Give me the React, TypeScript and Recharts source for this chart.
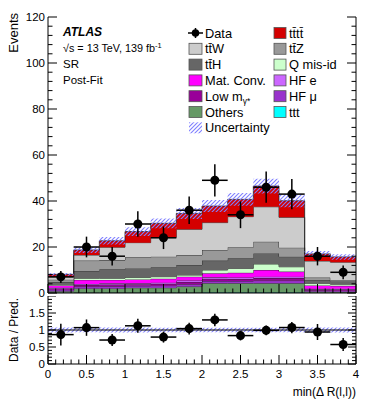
import { Area, ComposedChart, ErrorBar, ReferenceLine, Scatter, XAxis, YAxis } from 'recharts';

const FONT = '"Liberation Sans", Arial, Helvetica, sans-serif';

// binning of min(dR(l,l)): 12 bins of width 1/3
const BIN_EDGES = [0, 0.3333, 0.6667, 1, 1.3333, 1.6667, 2, 2.3333, 2.6667, 3, 3.3333, 3.6667, 4];
const BIN_CENTERS = [0.1667, 0.5, 0.8333, 1.1667, 1.5, 1.8333, 2.1667, 2.5, 2.8333, 3.1667, 3.5, 3.8333];
const BIN_HALF = 0.1667;

const DATA = [7, 20, 16, 30, 24, 36, 49, 34, 46, 43, 16, 9];
const DATA_ERR = [2.6, 4.5, 4.0, 5.5, 4.9, 6.0, 7.0, 5.8, 6.8, 6.6, 4.0, 3.0];

// post-fit predictions, bottom of stack first
const TTT = [0.1, 0.2, 0.2, 0.2, 0.2, 0.2, 0.3, 0.3, 0.3, 0.3, 0.1, 0.1];
const OTHERS = [0.7, 1.8, 1.8, 2.1, 2.1, 2.6, 3.9, 3.9, 3.9, 3.9, 0.5, 0.4];
const HF_MU = [0.6, 0.8, 0.9, 0.8, 0.9, 1.0, 1.0, 1.0, 1.2, 1.2, 0.5, 0.5];
const LOW_MGAMMA = [0.6, 0.7, 0.8, 0.7, 0.8, 1.0, 1.0, 0.9, 1.1, 1.1, 0.5, 0.5];
const HF_E = [0.3, 0.4, 0.5, 0.4, 0.5, 0.6, 0.6, 0.6, 0.6, 0.6, 0.3, 0.3];
const MAT_CONV = [1.0, 1.8, 1.5, 1.7, 1.7, 1.7, 1.8, 2.1, 2.9, 2.2, 1.4, 1.3];
const Q_MISID = [0.3, 0.7, 0.7, 0.9, 0.9, 0.7, 1.4, 1.9, 2.6, 2.1, 0.9, 0.7];
const TTH = [1.2, 3.2, 3.9, 3.9, 4.1, 4.4, 4.1, 4.4, 4.6, 4.4, 1.5, 1.2];
const TTZ = [1.0, 4.5, 4.0, 4.8, 4.6, 4.3, 4.6, 4.8, 5.1, 3.9, 1.0, 0.7];
const TTW = [1.3, 2.4, 5.6, 6.4, 8.4, 11.2, 11.9, 13.3, 15.2, 13.2, 7.2, 7.7];
const TTTT = [1.0, 2.2, 2.8, 4.8, 6.1, 6.9, 7.2, 7.5, 9.0, 7.2, 3.1, 2.3];

const UNCERTAINTY = [0.6, 1.3, 1.6, 1.9, 2.1, 2.4, 2.6, 2.8, 3.2, 2.8, 1.3, 1.2];

const SAMPLES = [
  { key: 'ttt', color: '#00ffff', values: TTT },
  { key: 'others', color: '#669966', values: OTHERS },
  { key: 'hfmu', color: '#9933cc', values: HF_MU },
  { key: 'lowm', color: '#990099', values: LOW_MGAMMA },
  { key: 'hfe', color: '#cc66ff', values: HF_E },
  { key: 'matconv', color: '#ff00ff', values: MAT_CONV },
  { key: 'qmisid', color: '#ccffcc', values: Q_MISID },
  { key: 'tth', color: '#666666', values: TTH },
  { key: 'ttz', color: '#999999', values: TTZ },
  { key: 'ttw', color: '#cccccc', values: TTW },
  { key: 'tttt', color: '#d40000', values: TTTT },
];

const TOTAL = BIN_CENTERS.map((_, b) => SAMPLES.reduce((s, p) => s + p.values[b], 0));

const histRows = BIN_EDGES.map((x, i) => {
  const b = Math.min(i, BIN_CENTERS.length - 1);
  const row: any = { x };
  SAMPLES.forEach((s) => (row[s.key] = s.values[b]));
  row.band = [TOTAL[b] - UNCERTAINTY[b], TOTAL[b] + UNCERTAINTY[b]];
  row.rband = [1 - UNCERTAINTY[b] / TOTAL[b], 1 + UNCERTAINTY[b] / TOTAL[b]];
  return row;
});

const dataPoints = BIN_CENTERS.map((x, b) => ({ x, y: DATA[b], ey: DATA_ERR[b], ex: BIN_HALF }));
const ratioPoints = BIN_CENTERS.map((x, b) => ({
  x,
  y: DATA[b] / TOTAL[b],
  ey: DATA_ERR[b] / TOTAL[b],
  ex: BIN_HALF,
}));

const X_TICKS = Array.from({ length: 41 }, (_, i) => i / 10);
const Y_TICKS = Array.from({ length: 31 }, (_, i) => i * 4);
const R_TICKS = Array.from({ length: 21 }, (_, i) => i / 10);

const HATCH = '#7f7fff';

const fmt = (v: number) => String(Number(v.toFixed(2)));
const onStep = (v: number, step: number) => Math.abs(v / step - Math.round(v / step)) < 1e-6;

const makeTick =
  (side: 'bottom' | 'top' | 'left' | 'right', major: number, long: number, label?: (v: number) => boolean) =>
  (props: any) => {
    const { x, y, payload } = props;
    const v = payload.value;
    const big = onStep(v, major);
    const len = big ? long : long / 2;
    let x2 = x;
    let y2 = y;
    if (side === 'bottom') y2 = y - len;
    if (side === 'top') y2 = y + len;
    if (side === 'left') x2 = x + len;
    if (side === 'right') x2 = x - len;
    const show = big && label && label(v);
    return (
      <g>
        <line x1={x} y1={y} x2={x2} y2={y2} stroke="#000" strokeWidth={1} />
        {show && side === 'bottom' && (
          <text x={x} y={y + 14} textAnchor="middle" fontSize={11.5} fontFamily={FONT} fill="#000">
            {fmt(v)}
          </text>
        )}
        {show && side === 'left' && (
          <text x={x - 3} y={y + 4} textAnchor="end" fontSize={11.5} fontFamily={FONT} fill="#000">
            {fmt(v)}
          </text>
        )}
      </g>
    );
  };

const axisCommon = { tickLine: false, tickSize: 0, tickMargin: 0, interval: 0 as const, axisLine: { stroke: '#000' } };

const LEGEND_LEFT = [
  { label: 'tt\u0304W', color: '#cccccc' },
  { label: 'tt\u0304H', color: '#666666' },
  { label: 'Mat. Conv.', color: '#ff00ff' },
  { label: 'LOWM', color: '#990099' },
  { label: 'Others', color: '#669966' },
];
const LEGEND_RIGHT = [
  { label: 'tt\u0304tt\u0304', color: '#d40000' },
  { label: 'tt\u0304Z', color: '#999999' },
  { label: 'Q mis-id', color: '#ccffcc' },
  { label: 'HF e', color: '#cc66ff' },
  { label: 'HF \u03bc', color: '#9933cc' },
  { label: 'ttt', color: '#00ffff' },
];

const ROW0 = 33;
const ROW_STEP = 15.8;
const LEG_FS = 12.8;

const Overlay = () => (
  <svg width={374} height={407} style={{ position: 'absolute', left: 0, top: 0, pointerEvents: 'none' }}>
    <g fontFamily={FONT} fill="#000">
      <text x={18} y={13} fontSize={13} textAnchor="end" transform="rotate(-90 18 13)">
        Events
      </text>
      <text x={18} y={330} fontSize={12} textAnchor="middle" transform="rotate(-90 18 330)">
        Data / Pred.
      </text>
      <text x={356} y={396} fontSize={12} textAnchor="end">
        min(Δ R(l,l))
      </text>
      <text x={63} y={36} fontSize={12} fontWeight="bold" fontStyle="italic">
        ATLAS
      </text>
      <text x={63} y={52} fontSize={10.8}>
        √s = 13 TeV, 139 fb<tspan dy={-4} fontSize={7.5}>-1</tspan>
      </text>
      <text x={63} y={68} fontSize={11.5}>
        SR
      </text>
      <text x={63} y={84} fontSize={11.5}>
        Post-Fit
      </text>

      {/* legend, left column */}
      <line x1={188} x2={203} y1={ROW0} y2={ROW0} stroke="#000" strokeWidth={1.5} />
      <line x1={195.5} x2={195.5} y1={ROW0 - 5} y2={ROW0 + 5} stroke="#000" strokeWidth={1.5} />
      <circle cx={195.5} cy={ROW0} r={3.8} fill="#000" />
      <text x={205} y={ROW0 + 4.5} fontSize={LEG_FS}>
        Data
      </text>
      {LEGEND_LEFT.map((e, i) => {
        const cy = ROW0 + ROW_STEP * (i + 1);
        return (
          <g key={e.label}>
            <rect x={189} y={cy - 5.5} width={13} height={11} fill={e.color} stroke="#555" strokeWidth={0.8} />
            <text x={205} y={cy + 4.5} fontSize={LEG_FS}>
              {e.label === 'LOWM' ? (
                <>
                  Low m<tspan dy={3} fontSize={8.5}>γ*</tspan>
                </>
              ) : (
                e.label
              )}
            </text>
          </g>
        );
      })}
      <rect x={189} y={ROW0 + ROW_STEP * 6 - 5.5} width={13} height={11} fill="url(#hatch)" />
      <text x={205} y={ROW0 + ROW_STEP * 6 + 4.5} fontSize={LEG_FS}>
        Uncertainty
      </text>
      {/* legend, right column */}
      {LEGEND_RIGHT.map((e, i) => {
        const cy = ROW0 + ROW_STEP * i;
        return (
          <g key={e.label}>
            <rect x={274} y={cy - 5.5} width={12} height={11} fill={e.color} stroke="#555" strokeWidth={0.8} />
            <text x={289} y={cy + 4.5} fontSize={LEG_FS}>
              {e.label}
            </text>
          </g>
        );
      })}
    </g>
  </svg>
);

export default function App() {
  return (
    <div style={{ position: 'absolute', left: 0, top: 0, width: 374, height: 407, background: '#fff' }}>
      <svg width={0} height={0} style={{ position: 'absolute' }}>
        <defs>
          <pattern id="hatch" patternUnits="userSpaceOnUse" width={4} height={4}>
            <line x1={0} y1={4} x2={4} y2={0} stroke={HATCH} strokeWidth={1.1} />
            <line x1={-1} y1={1} x2={1} y2={-1} stroke={HATCH} strokeWidth={1.1} />
            <line x1={3} y1={5} x2={5} y2={3} stroke={HATCH} strokeWidth={1.1} />
          </pattern>
        </defs>
      </svg>
      <div style={{ position: 'absolute', left: 0, top: 296 }}>
        <ComposedChart width={374} height={111} data={histRows} margin={{ top: 0, right: 0, bottom: 0, left: 0 }}>
          <XAxis dataKey="x" type="number" domain={[0, 4]} ticks={X_TICKS} height={43} tick={makeTick('bottom', 0.5, 9, () => true)} {...axisCommon} allowDataOverflow />
          <XAxis xAxisId="top" orientation="top" type="number" domain={[0, 4]} ticks={X_TICKS} height={0} tick={makeTick('top', 0.5, 9)} {...axisCommon} allowDataOverflow />
          <YAxis type="number" domain={[0, 2]} ticks={R_TICKS} width={48} tick={makeTick('left', 0.5, 8, (v) => v < 1.9)} {...axisCommon} allowDataOverflow />
          <YAxis yAxisId="right" orientation="right" type="number" domain={[0, 2]} ticks={R_TICKS} width={18} tick={makeTick('right', 0.5, 8)} {...axisCommon} allowDataOverflow />
          <Area dataKey="rband" type="stepAfter" fill="url(#hatch)" fillOpacity={1} stroke="none" dot={false} activeDot={false} isAnimationActive={false} />
          <ReferenceLine y={1} stroke="#000" strokeWidth={1} />
          <Scatter data={ratioPoints} dataKey="y" fill="#000" shape="circle" isAnimationActive={false}>
            <ErrorBar dataKey="ey" direction="y" width={0} stroke="#000" strokeWidth={1.5} isAnimationActive={false} />
            <ErrorBar dataKey="ex" direction="x" width={0} stroke="#000" strokeWidth={1.5} isAnimationActive={false} />
          </Scatter>
        </ComposedChart>
      </div>
      <div style={{ position: 'absolute', left: 0, top: 0 }}>
        <ComposedChart width={374} height={302} data={histRows} margin={{ top: 17, right: 0, bottom: 0, left: 0 }}>
          <XAxis dataKey="x" type="number" domain={[0, 4]} ticks={X_TICKS} height={9} tick={makeTick('bottom', 0.5, 9)} {...axisCommon} allowDataOverflow />
          <XAxis xAxisId="top" orientation="top" type="number" domain={[0, 4]} ticks={X_TICKS} height={0} tick={makeTick('top', 0.5, 9)} {...axisCommon} allowDataOverflow />
          <YAxis type="number" domain={[0, 120]} ticks={Y_TICKS} width={48} tick={makeTick('left', 20, 9, () => true)} {...axisCommon} allowDataOverflow />
          <YAxis yAxisId="right" orientation="right" type="number" domain={[0, 120]} ticks={Y_TICKS} width={18} tick={makeTick('right', 20, 9)} {...axisCommon} allowDataOverflow />
          {SAMPLES.map((s) => (
            <Area
              key={s.key}
              dataKey={s.key}
              stackId="mc"
              type="stepAfter"
              fill={s.color}
              fillOpacity={1}
              stroke="#222"
              strokeWidth={0.8}
              dot={false}
              activeDot={false}
              isAnimationActive={false}
            />
          ))}
          <Area dataKey="band" type="stepAfter" fill="url(#hatch)" fillOpacity={1} stroke="none" dot={false} activeDot={false} isAnimationActive={false} />
          <Scatter data={dataPoints} dataKey="y" fill="#000" shape="circle" isAnimationActive={false}>
            <ErrorBar dataKey="ey" direction="y" width={0} stroke="#000" strokeWidth={1.5} isAnimationActive={false} />
            <ErrorBar dataKey="ex" direction="x" width={0} stroke="#000" strokeWidth={1.5} isAnimationActive={false} />
          </Scatter>
        </ComposedChart>
      </div>
      <Overlay />
    </div>
  );
}
